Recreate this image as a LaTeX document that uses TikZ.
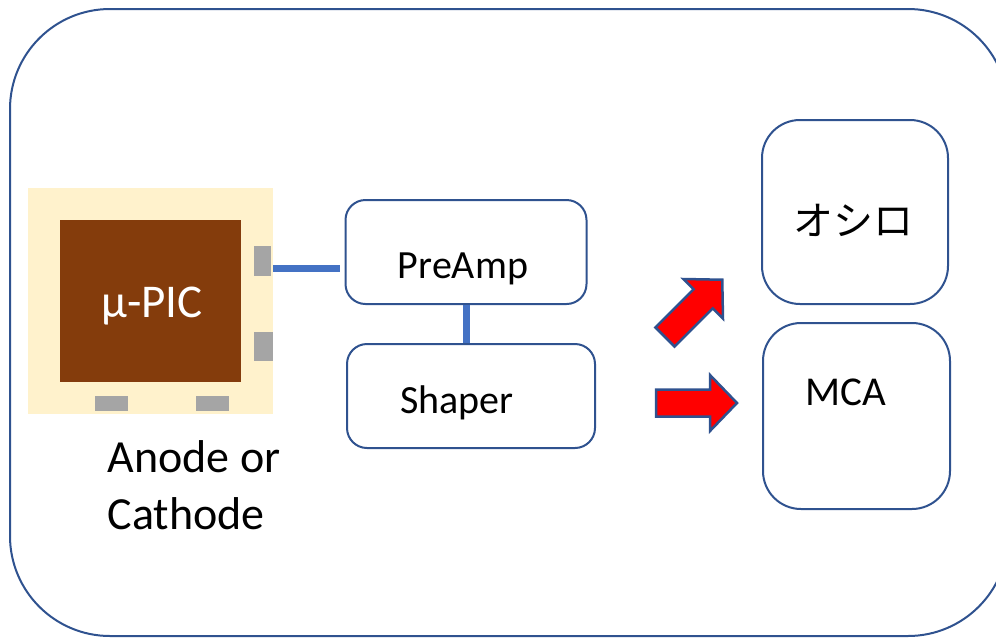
\documentclass[tikz,border=0pt]{standalone}
\usepackage{fontspec}
\setmainfont{Carlito}
\newfontfamily\jpfont{Noto Sans CJK JP}
\definecolor{frameblue}{HTML}{2F528F}
\definecolor{wireblue}{HTML}{4472C4}
\definecolor{padbeige}{HTML}{FFF2CC}
\definecolor{chipbrown}{HTML}{843C0C}
\definecolor{padgrey}{HTML}{A5A5A5}
\tikzset{
  box/.style={draw=frameblue, line width=2pt, rounded corners=20pt, inner sep=0pt},
  pad/.style={fill=padgrey, inner sep=0pt},
  wire/.style={draw=wireblue, line width=7pt},
  txt/.style={font=\fontsize{40}{48}\selectfont},
  redarrow/.pic={
    \draw[frameblue, fill=red, line width=2.5pt, line join=miter]
      (0,-13.5) -- (54,-13.5) -- (54,-28) -- (81,0) -- (54,28) -- (54,13.5) -- (0,13.5) -- cycle;
  }
}
\begin{document}
\begin{tikzpicture}[x=1pt,y=-1pt]
  \useasboundingbox (0,0) rectangle (996,638);
  \clip (0,0) rectangle (996,638);
  \draw[frameblue, line width=2pt, rounded corners=100pt] (10,9) rectangle (1008,636);

  % detector
  \node[fill=padbeige, minimum width=245pt, minimum height=226pt, inner sep=0pt] (chip) at (150.5,300.5) {};
  \node[fill=chipbrown, minimum width=181pt, minimum height=162pt, inner sep=0pt] (upic) at (150.5,301) {};
  \node[text=white, anchor=base, font=\fontsize{47}{56}\selectfont] (upictxt) at (152,317) {µ-PIC};
  \node[pad, minimum width=17pt, minimum height=30pt] (padr1) at (262.5,261) {};
  \node[pad, minimum width=19pt, minimum height=29pt] (padr2) at (263.5,346.5) {};
  \node[pad, minimum width=33pt, minimum height=15pt] (padb1) at (111.5,403.5) {};
  \node[pad, minimum width=33pt, minimum height=15pt] (padb2) at (212.5,403.5) {};
  \node[anchor=base west, font=\fontsize{46}{57}\selectfont] (anode) at (104,472) {Anode or};
  \node[anchor=base west, font=\fontsize{46}{57}\selectfont] (cathode) at (104,529) {Cathode};

  % electronics
  \node[box, minimum width=241pt, minimum height=104pt] (preamp) at (466,252) {};
  \node[txt, anchor=base] (preamptxt) at (463,278) {PreAmp};
  \node[box, minimum width=248pt, minimum height=104pt] (shaper) at (471,396) {};
  \node[txt, anchor=base] (shapertxt) at (457,413) {Shaper};
  \node[box, rounded corners=38pt, minimum width=186pt, minimum height=184pt] (osc) at (855,212) {};
  \node[font=\jpfont\fontsize{40}{48}\selectfont] (osctxt) at (853,220) {オシロ};
  \node[box, rounded corners=38pt, minimum width=187pt, minimum height=186pt] (mca) at (856.5,416) {};
  \node[anchor=base west, font=\fontsize{41}{49}\selectfont] (mcatxt) at (802,405) {MCA};

  \coordinate (wireend) at ([yshift=-16pt]preamp.west);
  \draw[wire, shorten >=5pt] (chip.east |- wireend) -- (wireend);
  \draw[wire] (preamp.south) -- (preamp.south |- shaper.north);

  \pic[rotate=45] at (665,337) {redarrow};
  \pic at (656,403) {redarrow};
\end{tikzpicture}
\end{document}
